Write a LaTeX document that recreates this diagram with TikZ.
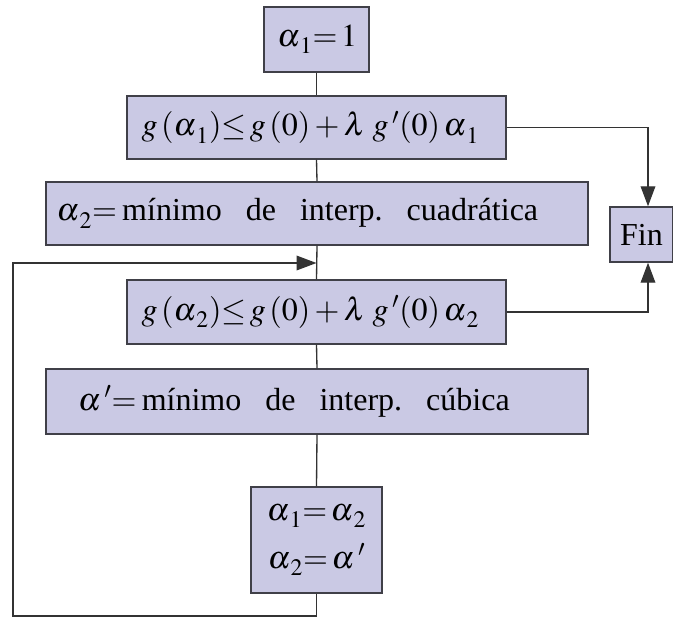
\documentclass[tikz,border=0pt]{standalone}
\usepackage{mathptmx}
\usepackage[no-math]{fontspec}
\setmainfont{Liberation Serif}
\usepackage{xcolor}
\usepackage{tikz}
\usetikzlibrary{arrows.meta,calc}
\definecolor{boxfill}{RGB}{202,201,228}
\definecolor{boxedge}{RGB}{64,64,72}
\newcommand{\gap}{\hspace{0.75em}}
\newcommand{\al}[1]{\alpha_{\hspace{2pt}\raisebox{-2pt}{$\scriptstyle #1$}}}
% left-set line inside a box of given width, after an indent
\newcommand{\boxline}[3]{\makebox[#1][l]{\hspace{#2}#3}}

\begin{document}
\begin{tikzpicture}[x=0.75pt, y=-0.75pt,
  % ── node styles ──────────────────────────────────────────────────────────
  step box/.style={
    draw=boxedge, line width=1.1pt,
    rectangle, fill=boxfill, inner sep=0pt,
    font=\fontsize{24}{30}\selectfont
  },
  % connector lines, no arrowhead
  link/.style={
    draw=black!80, line width=1.0pt
  },
  % connector lines ending in a filled triangle
  flow/.style={
    link, -{Triangle[length=15pt, width=11pt]}
  },
]

\useasboundingbox (0,0) rectangle (673,617);

% ── Boxes ───────────────────────────────────────────────────────────────────
\node[step box, minimum width=78.75pt, minimum height=48.75pt]
  (init)  at (316.5, 39.5)  {\boxline{78.75pt}{10pt}{$\al1{=}\,1$}};
\node[step box, minimum width=284.25pt, minimum height=47.25pt]
  (test1) at (316.5, 127.5)
  {\boxline{284.25pt}{11pt}{$g\,(\al1){\le}\,g\,(0)+\lambda\; g\,'(0)\,\al1$}};
\node[step box, minimum width=406.5pt, minimum height=47.25pt]
  (quad)  at (317, 213.5)
  {\boxline{406.5pt}{8pt}{$\al2{=}$\,mínimo\gap de\gap interp.\gap cuadrática}};
\node[step box, minimum width=47pt, minimum height=41.25pt]
  (fin)   at (641.5, 234.5) {Fin};
\node[step box, minimum width=284.25pt, minimum height=48pt]
  (test2) at (316.5, 312)
  {\boxline{284.25pt}{11pt}{$g\,(\al2){\le}\,g\,(0)+\lambda\; g\,'(0)\,\al2$}};
\node[step box, minimum width=406.5pt, minimum height=48.75pt]
  (cub)   at (317, 401.5)
  {\boxline{406.5pt}{24pt}{$\alpha\,'{=}$\,mínimo\gap de\gap interp.\gap cúbica}};
\node[step box, minimum width=98.25pt, minimum height=79.5pt, align=center]
  (swap)  at (316.5, 540)
  {\raisebox{-3pt}{$\al1{=}\,\al2$}\\[9pt]$\al2{=}\,\alpha\,'$};

% ── Main column ─────────────────────────────────────────────────────────────
\draw[link] (init.south) -- (test1.north);
\draw[link] (test1.south) -- (quad.north);
\draw[link] (quad.south) -- (test2.north);
\draw[link] (test2.south) -- (cub.north);
\draw[link] (cub.south) -- (swap.north);

% ── Exits to Fin ────────────────────────────────────────────────────────────
\coordinate (finx) at (648, 0);
\draw[flow] (test1.east) -| (finx |- fin.north);
\draw[flow] (test2.east) -| (finx |- fin.south);

% ── Loop back ───────────────────────────────────────────────────────────────
\coordinate (loopbl) at (13, 616);
\coordinate (loopin) at (316.5, 263);
\draw[flow] (swap.south) |- (loopbl) |- (loopin);

\end{tikzpicture}
\end{document}
